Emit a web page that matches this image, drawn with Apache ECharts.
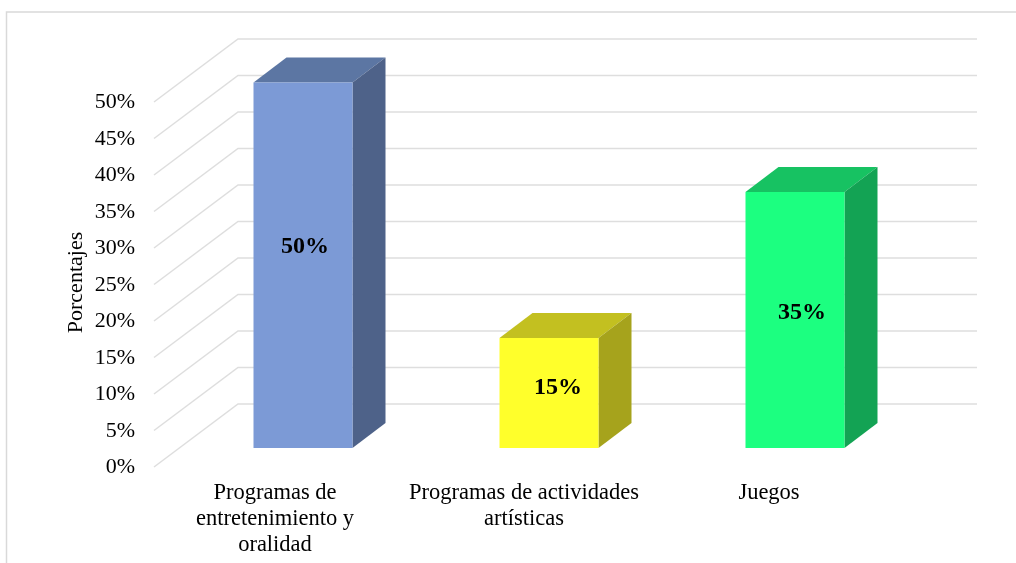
<!DOCTYPE html>
<html>
<head>
<meta charset="utf-8">
<style>html,body{margin:0;padding:0;background:#fff}#c{width:1016px;height:563px}</style>
<script src="https://cdn.jsdelivr.net/npm/echarts@6/dist/echarts.min.js"></script>
</head>
<body>
<div id="c"></div>
<script>
var categories = ['Programas de\nentretenimiento y\noralidad', 'Programas de actividades\nartísticas', 'Juegos'];
var values = [50, 15, 35];
var yTicks = [0, 5, 10, 15, 20, 25, 30, 35, 40, 45, 50];
var frontColors = ['#7C9AD6', '#FFFF2B', '#1CFF80'];
var topColors = ['#5C76A3', '#C3C020', '#17C262'];
var sideColors = ['#4E6289', '#A6A31C', '#13A354'];
var labelShiftX = [2, 9, 7];
var labelShiftY = [-18, -5, -7];
var categoryShift = [10, 4, 6];

var FONT = '"Liberation Serif","Times New Roman",serif';
var chart = echarts.init(document.getElementById('c'), null, {renderer: 'canvas'});

function renderWall(params, api) {
  var v = api.value(0);
  var p = api.coord([0, v]);
  var cs = params.coordSys;
  var x0 = cs.x - 3, y0 = p[1] + 2;
  var x1 = cs.x + 81, y1 = p[1] - 61;
  var x2 = cs.x + 820;
  return {
    type: 'polyline',
    shape: {points: [[x0, y0], [x1, y1], [x2, y1]]},
    style: {fill: null, stroke: '#DEDEDE', lineWidth: 1.5}
  };
}

function renderBar(params, api) {
  var i = api.value(0);
  var v = api.value(1);
  var top = api.coord([i, v]);
  var base = api.coord([i, 0]);
  var w = 99, dx = 33, dy = 25;
  var xl = top[0] + 23 - w / 2, xr = xl + w;
  var yt = top[1] - 17.5, yb = base[1] - 17;
  return {
    type: 'group',
    children: [
      {type: 'polygon', shape: {points: [[xl, yt], [xl + dx, yt - dy], [xr + dx, yt - dy], [xr, yt]]},
        style: {fill: topColors[i]}},
      {type: 'polygon', shape: {points: [[xr, yt], [xr + dx, yt - dy], [xr + dx, yb - dy], [xr, yb]]},
        style: {fill: sideColors[i]}},
      {type: 'rect', shape: {x: xl, y: yt, width: w, height: yb - yt},
        style: {fill: frontColors[i]}},
      {type: 'text', style: {
        text: v + '%', x: (xl + xr) / 2 + labelShiftX[i], y: (yt + yb) / 2 + labelShiftY[i],
        align: 'center', verticalAlign: 'middle',
        font: 'bold 24px ' + FONT, fill: '#000'
      }}
    ]
  };
}

chart.setOption({
  animation: false,
  backgroundColor: '#fff',
  graphic: [{
    type: 'polyline', silent: true, z: 0,
    shape: {points: [[6.5, 563], [6.5, 12], [1016, 12]]},
    style: {fill: null, stroke: '#D9D9D9', lineWidth: 1.5}
  }],
  grid: {left: 157, top: 100, width: 738, height: 365, containLabel: false},
  xAxis: {
    type: 'category',
    data: categories.map(function (c, i) {
      return {value: c, textStyle: {padding: [0, categoryShift[i], 0, 0]}};
    }),
    axisLine: {show: false}, axisTick: {show: false}, splitLine: {show: false},
    axisLabel: {
      interval: 0, margin: 15, width: 300, overflow: 'none',
      fontFamily: FONT, fontSize: 22.5, color: '#000', lineHeight: 26
    }
  },
  yAxis: {
    type: 'value', min: 0, max: 50, interval: 5,
    name: 'Porcentajes', nameLocation: 'middle', nameGap: 70, nameRotate: 90, nameMoveOverlap: false,
    nameTextStyle: {fontFamily: FONT, fontSize: 22, color: '#000'},
    axisLine: {show: false}, axisTick: {show: false}, splitLine: {show: false},
    axisLabel: {
      margin: 22, formatter: '{a|{value}%}', color: '#000',
      rich: {a: {fontFamily: FONT, fontSize: 22, color: '#000', padding: [5, 0, 0, 0]}}
    }
  },
  series: [
    {type: 'custom', name: 'wall', coordinateSystem: 'cartesian2d', clip: false, silent: true, z: 1,
      renderItem: renderWall, encode: {x: 1, y: 0},
      data: yTicks.map(function (t) { return [t, 0]; })},
    {type: 'custom', name: 'Porcentajes', coordinateSystem: 'cartesian2d', clip: false, z: 2,
      renderItem: renderBar, encode: {x: 0, y: 1},
      data: values.map(function (v, i) { return [i, v]; })}
  ]
});
</script>
</body>
</html>
